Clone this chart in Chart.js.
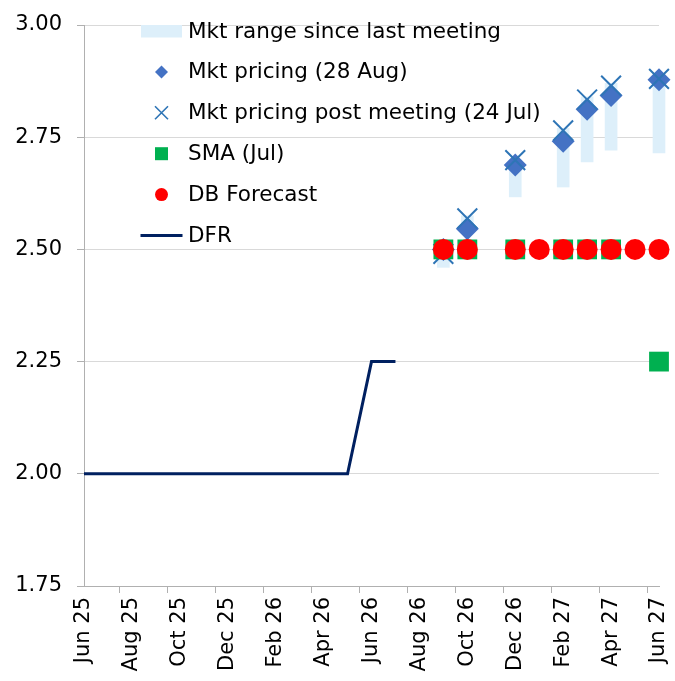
<!DOCTYPE html>
<html>
<head>
<meta charset="utf-8">
<script src="https://cdn.jsdelivr.net/npm/chart.js@4.4.1/dist/chart.umd.min.js"></script>
<style>
    html, body { margin: 0; padding: 0; background: #fff; }
    #wrap { width: 675px; height: 681px; position: relative; }
</style>
</head>
<body>
<div id="wrap"><canvas id="ratesChart"></canvas></div>
<script>
// Months on the x axis (labelled every second month)
const months = ['Jun 25', 'Jul 25', 'Aug 25', 'Sep 25', 'Oct 25', 'Nov 25', 'Dec 25', 'Jan 26', 'Feb 26',
    'Mar 26', 'Apr 26', 'May 26', 'Jun 26', 'Jul 26', 'Aug 26', 'Sep 26', 'Oct 26', 'Nov 26', 'Dec 26',
    'Jan 27', 'Feb 27', 'Mar 27', 'Apr 27', 'May 27', 'Jun 27'];

// Series values, one entry per month
const mktRangeLow = [null, null, null, null, null, null, null, null, null, null, null, null, null, null, null,
    2.46, 2.54, null, 2.617, null, 2.639, 2.695, 2.721, null, 2.715];
const mktRangeHigh = [null, null, null, null, null, null, null, null, null, null, null, null, null, null, null,
    2.50, 2.575, null, 2.70, null, 2.77, 2.84, 2.87, null, 2.89];
const mktPricing = [null, null, null, null, null, null, null, null, null, null, null, null, null, null, null,
    2.50, 2.546, null, 2.688, null, 2.741, 2.812, 2.843, null, 2.878];
const postMeeting = [null, null, null, null, null, null, null, null, null, null, null, null, null, null, null,
    2.49, 2.569, null, 2.699, null, 2.765, 2.834, 2.865, null, 2.880];
const smaJul = [null, null, null, null, null, null, null, null, null, null, null, null, null, null, null,
    2.50, 2.50, null, 2.50, null, 2.50, 2.50, 2.50, null, 2.25];
const dbForecast = [null, null, null, null, null, null, null, null, null, null, null, null, null, null, null,
    2.50, 2.50, null, 2.50, 2.50, 2.50, 2.50, 2.50, 2.50, 2.50];
const dfr = [2.00, 2.00, 2.00, 2.00, 2.00, 2.00, 2.00, 2.00, 2.00, 2.00, 2.00, 2.00, 2.25, 2.25,
    null, null, null, null, null, null, null, null, null, null, null];

// Y axis ticks
const yTicks = [1.75, 2.00, 2.25, 2.50, 2.75, 3.00];

const FONT = 'DejaVu Sans';

const ranges = mktRangeLow.map((lo, i) => (lo === null ? null : [lo, mktRangeHigh[i]]));

// Legend drawn inside the plot, top-left, like the original
const insideLegend = {
    id: 'insideLegend',
    afterDraw(chart) {
        const ctx = chart.ctx;
        const mx = 161.5, tx = 188, y0 = 31, step = 40.9;
        ctx.save();
        chart.data.datasets.forEach((ds, i) => {
            const y = y0 + i * step;
            const kind = ds.legendMarker;
            ctx.fillStyle = ds.pointBackgroundColor || ds.backgroundColor;
            ctx.strokeStyle = ds.pointBorderColor || ds.borderColor;
            ctx.beginPath();
            if (kind === 'range') {
                ctx.fillStyle = ds.backgroundColor;
                ctx.fillRect(mx - 20.5, y - 6, 41, 12.5);
            } else if (kind === 'rectRot') {
                ctx.moveTo(mx, y - 6.5); ctx.lineTo(mx + 6.5, y); ctx.lineTo(mx, y + 6.5); ctx.lineTo(mx - 6.5, y);
                ctx.closePath(); ctx.fill();
            } else if (kind === 'crossRot') {
                ctx.lineWidth = 1.6;
                ctx.moveTo(mx - 6.5, y - 6.5); ctx.lineTo(mx + 6.5, y + 6.5);
                ctx.moveTo(mx + 6.5, y - 6.5); ctx.lineTo(mx - 6.5, y + 6.5);
                ctx.stroke();
            } else if (kind === 'rect') {
                ctx.fillRect(mx - 6.5, y - 6.5, 13, 13);
            } else if (kind === 'circle') {
                ctx.arc(mx, y, 6.5, 0, Math.PI * 2); ctx.fill();
            } else if (kind === 'line') {
                ctx.lineWidth = 3;
                ctx.moveTo(mx - 21, y); ctx.lineTo(mx + 21, y); ctx.stroke();
            }
            ctx.fillStyle = '#000';
            ctx.font = '21.5px "' + FONT + '"';
            ctx.textAlign = 'left';
            ctx.textBaseline = 'middle';
            ctx.fillText(ds.label, tx, y + 1);
        });
        ctx.restore();
    }
};

const config = {
    data: {
        labels: months,
        datasets: [
            {
                type: 'bar',
                label: 'Mkt range since last meeting',
                legendMarker: 'range',
                data: ranges,
                backgroundColor: '#DDEFFA',
                borderWidth: 0,
                barThickness: 12,
                grouped: false,
                clip: false,
                order: 6
            },
            {
                type: 'line',
                label: 'Mkt pricing (28 Aug)',
                legendMarker: 'rectRot',
                data: mktPricing,
                showLine: false,
                pointStyle: 'rectRot',
                pointRadius: 11.5,
                pointBackgroundColor: '#4472C4',
                pointBorderColor: '#4472C4',
                pointBorderWidth: 0,
                clip: false,
                order: 5
            },
            {
                type: 'line',
                label: 'Mkt pricing post meeting (24 Jul)',
                legendMarker: 'crossRot',
                data: postMeeting,
                showLine: false,
                pointStyle: 'crossRot',
                pointRadius: 14,
                pointBackgroundColor: '#2E75B6',
                pointBorderColor: '#2E75B6',
                pointBorderWidth: 2,
                clip: false,
                order: 4
            },
            {
                type: 'line',
                label: 'SMA (Jul)',
                legendMarker: 'rect',
                data: smaJul,
                showLine: false,
                pointStyle: 'rect',
                pointRadius: 14,
                pointBackgroundColor: '#00B050',
                pointBorderColor: '#00B050',
                pointBorderWidth: 0,
                clip: false,
                order: 3
            },
            {
                type: 'line',
                label: 'DB Forecast',
                legendMarker: 'circle',
                data: dbForecast,
                showLine: false,
                pointStyle: 'circle',
                pointRadius: 10.5,
                pointBackgroundColor: '#FF0000',
                pointBorderColor: '#FF0000',
                pointBorderWidth: 0,
                clip: false,
                order: 2
            },
            {
                type: 'line',
                label: 'DFR',
                legendMarker: 'line',
                data: dfr,
                borderColor: '#002060',
                backgroundColor: '#002060',
                borderWidth: 3,
                pointRadius: 0,
                tension: 0,
                spanGaps: false,
                order: 1
            }
        ]
    },
    options: {
        responsive: true,
        maintainAspectRatio: false,
        animation: false,
        layout: {
            padding: { top: 25, right: 16, left: 0, bottom: 0 }
        },
        plugins: {
            legend: { display: false },
            tooltip: { enabled: false }
        },
        scales: {
            x: {
                type: 'category',
                offset: false,
                border: { display: true, color: '#B0B0B0', width: 1 },
                grid: {
                    display: true,
                    drawOnChartArea: false,
                    drawTicks: true,
                    tickLength: 7,
                    tickColor: function(ctx) {
                        return ctx.index % 2 === 0 ? '#B0B0B0' : 'rgba(0,0,0,0)';
                    }
                },
                ticks: {
                    autoSkip: false,
                    minRotation: 90,
                    maxRotation: 90,
                    padding: 4,
                    color: '#000',
                    font: { family: FONT, size: 21 },
                    callback: function(value, index) {
                        return index % 2 === 0 ? months[index] : '';
                    }
                },
                afterFit: function(scale) {
                    scale.height = 95;
                    scale.paddingLeft = 0;
                    scale.paddingRight = 0;
                }
            },
            y: {
                min: yTicks[0],
                max: yTicks[yTicks.length - 1],
                border: { display: true, color: '#B0B0B0', width: 1 },
                grid: {
                    color: '#D9D9D9',
                    tickColor: '#B0B0B0',
                    tickLength: 7,
                    lineWidth: 1
                },
                ticks: {
                    stepSize: 0.25,
                    padding: 15,
                    color: '#000',
                    font: { family: FONT, size: 21 },
                    callback: function(value) {
                        return Number(value).toFixed(2);
                    }
                },
                afterBuildTicks: function(scale) {
                    scale.ticks = yTicks.map(v => ({ value: v }));
                },
                afterFit: function(scale) {
                    scale.width = 84;
                    scale.paddingTop = 0;
                    scale.paddingBottom = 0;
                }
            }
        }
    },
    plugins: [insideLegend]
};

new Chart(document.getElementById('ratesChart').getContext('2d'), config);
</script>
</body>
</html>
